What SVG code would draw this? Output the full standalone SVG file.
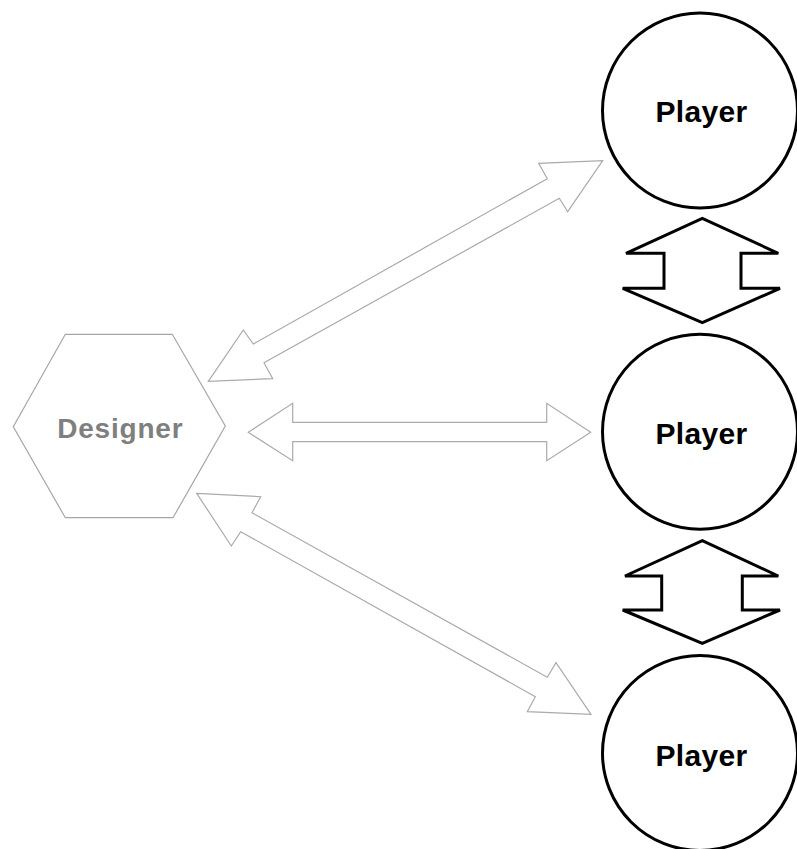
<svg xmlns="http://www.w3.org/2000/svg" width="797" height="849" viewBox="0 0 797 849">
<style>
.player circle{fill:#fff;stroke:#000;stroke-width:3}
.player text{font-family:"Liberation Sans",Arial,sans-serif;font-weight:bold;font-size:30px;fill:#000;text-anchor:middle;letter-spacing:0.3px}
.designer polygon{fill:#fff;stroke:#a3a8a3;stroke-width:1.2}
.designer text{font-family:"Liberation Sans",Arial,sans-serif;font-weight:bold;font-size:28px;fill:#7f7f7f;text-anchor:middle;letter-spacing:0.8px}
.thin{fill:#fff;stroke:#a8aca8;stroke-width:1.2;stroke-linejoin:miter}
.thick{fill:#fff;stroke:#000;stroke-width:3;stroke-linejoin:miter}
</style>
<rect width="797" height="849" fill="#fff"/>
<g id="designer" class="designer">
<polygon points="65.3,334.3 172.3,334.3 225.3,426 173,517.7 65.3,517.7 13.3,426.7"/>
<text x="120.3" y="437.5">Designer</text>
</g>
<g id="player1" class="player">
<circle cx="700" cy="110.5" r="97.5"/>
<text x="701.5" y="121.7">Player</text>
</g>
<g id="player2" class="player">
<circle cx="700" cy="431.7" r="97.5"/>
<text x="701.5" y="444">Player</text>
</g>
<g id="player3" class="player">
<circle cx="700" cy="753" r="97.5"/>
<text x="701.5" y="765.5">Player</text>
</g>
<g id="connectors">
<polygon class="thin" points="208.3,381.3 243.3,330 253.3,344 547.3,178.7 538.7,163.3 602.7,160.7 567.7,211.7 559.3,198.3 264,362.7 272.7,378.7"/>
<polygon class="thin" points="248.3,432.3 292.7,403.3 292.7,422.3 546.7,422.3 546.7,403.3 590.7,432.3 546.7,460.7 546.7,441.7 292.7,441.7 292.7,460.7"/>
<polygon class="thin" points="196.7,493.3 260.7,496.7 252,512.7 547.3,677.3 556,662.7 591,714.3 527.3,711.7 535.3,696.7 240.7,531.7 231.3,546"/>
<polygon class="thick" points="702.3,218.3 778.3,253.3 741,253.3 741,288.3 780,288.3 702.3,322.7 622.7,288.3 664,288.3 664,253.3 626,253.3"/>
<polygon class="thick" points="702.3,540.7 778.3,576 742.3,576 742.3,610 780,610 702.3,643.3 622.7,610 661.7,610 661.7,576 625,576"/>
</g>
</svg>
